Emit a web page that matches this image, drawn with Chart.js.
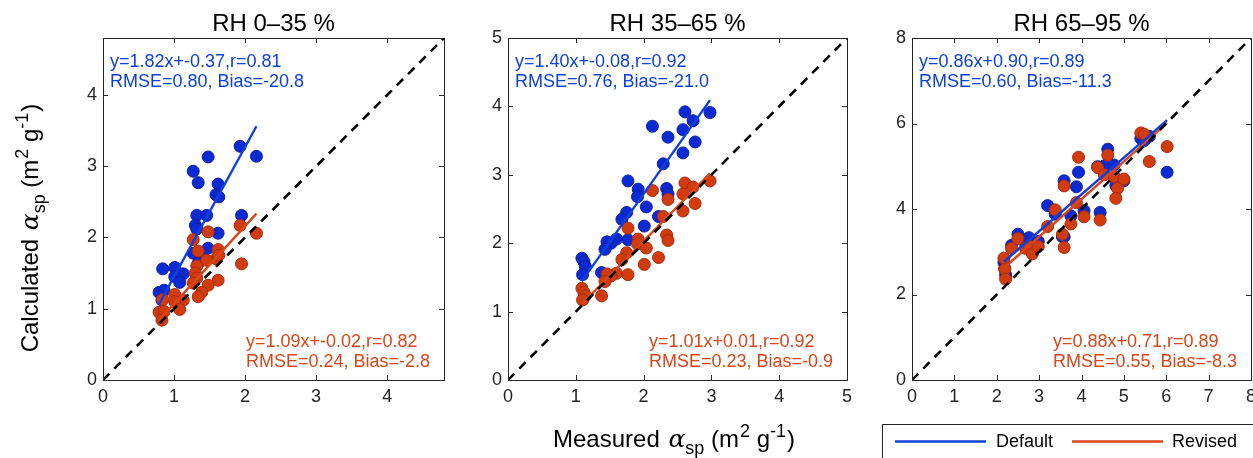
<!DOCTYPE html>
<html>
<head>
<meta charset="utf-8">
<script src="https://cdn.jsdelivr.net/npm/chart.js@4.4.0/dist/chart.umd.min.js"></script>
<style>
    body { margin: 0; background: #fff; }
    #wrap { position: relative; width: 1253px; height: 458px; overflow: hidden; }
    #wrap canvas { position: absolute; left: 0; top: 0; }
</style>
</head>
<body>
<div id="wrap">
    <canvas id="c0" width="1300" height="458"></canvas>
    <canvas id="c1" width="1300" height="458"></canvas>
    <canvas id="c2" width="1300" height="458"></canvas>
</div>
<script>
// ---- data ----
const panelTitles = ['RH 0\u201335 %', 'RH 35\u201365 %', 'RH 65\u201395 %'];
const axisMax = [4.8, 5, 8];
const xTickStep = [1, 1, 1];
const yTickStep = [1, 1, 2];

// RH 0-35 %
const measured1 = [1.93, 2.16, 1.48, 1.27, 1.34, 1.62, 1.59, 1.63, 1.95, 1.32, 1.46, 1.30, 1.32,
                   1.62, 1.48, 1.27, 1.39, 1.34, 0.84, 1.01, 1.13, 1.01, 1.08, 0.79, 0.86, 0.83];
const default1  = [3.28, 3.14, 3.13, 2.93, 2.77, 2.75, 2.60, 2.57, 2.31, 2.31, 2.31, 2.17, 2.12,
                   2.06, 1.85, 1.78, 1.71, 1.64, 1.56, 1.58, 1.49, 1.45, 1.37, 1.23, 1.26, 1.12];
const revised1  = [2.17, 2.06, 2.08, 1.97, 1.81, 1.83, 1.70, 1.75, 1.63, 1.60, 1.68, 1.50, 1.43,
                   1.40, 1.33, 1.36, 1.23, 1.17, 1.13, 1.20, 1.12, 1.10, 0.99, 0.95, 0.96, 0.84];

// RH 35-65 %
const measured2 = [2.61, 2.98, 2.73, 2.13, 2.58, 2.36, 2.76, 2.58, 2.29, 1.77, 1.92, 2.34, 2.36, 1.91, 2.04,
                   1.75, 1.68, 2.22, 2.01, 1.60, 1.52, 1.46, 1.77, 1.43, 1.09, 1.12, 1.14, 1.10, 1.38];
const default2  = [3.92, 3.91, 3.79, 3.71, 3.66, 3.55, 3.48, 3.32, 3.16, 2.91, 2.79, 2.80, 2.72, 2.68, 2.53,
                   2.45, 2.35, 2.39, 2.25, 2.06, 2.00, 2.02, 2.05, 1.91, 1.78, 1.73, 1.66, 1.54, 1.57];
const revised2  = [2.88, 2.91, 2.82, 2.77, 2.72, 2.64, 2.58, 2.47, 2.39, 2.22, 2.06, 2.12, 2.04, 1.99, 1.93,
                   1.86, 1.76, 1.79, 1.69, 1.56, 1.52, 1.55, 1.54, 1.44, 1.34, 1.28, 1.23, 1.17, 1.23];

// RH 65-95 %
const measured3 = [2.17, 2.19, 2.21, 2.35, 2.50, 2.68, 2.76, 2.84, 2.98, 3.20, 3.38, 3.55, 3.59, 3.59,
                   3.75, 3.88, 3.93, 4.06, 4.44, 4.38, 4.54, 4.62, 4.77, 4.85, 4.81, 5.00, 5.40, 5.48,
                   5.60, 6.02];
const default3  = [2.75, 2.61, 2.46, 3.15, 3.41, 3.20, 3.33, 3.05, 3.24, 4.08, 3.88, 3.35, 3.35, 4.66,
                   3.84, 4.52, 4.86, 3.96, 3.92, 4.99, 5.01, 5.40, 5.03, 4.68, 4.55, 4.66, 5.65, 5.60,
                   5.70, 4.86];
const revised3  = [2.85, 2.59, 2.36, 3.08, 3.31, 3.08, 3.13, 2.95, 3.12, 3.59, 3.98, 3.41, 3.10, 4.54,
                   3.65, 4.15, 5.21, 3.82, 3.74, 4.97, 4.80, 5.26, 4.76, 4.48, 4.25, 4.70, 5.78, 5.75,
                   5.11, 5.46];

// linear fits printed in the panels: [slope, intercept]
const fitDefault = [[1.82, -0.37], [1.40, -0.08], [0.86, 0.90]];
const fitRevised = [[1.09, -0.02], [1.01, 0.01], [0.88, 0.71]];
const statsDefault = [
    ['y=1.82x+-0.37,r=0.81', 'RMSE=0.80, Bias=-20.8'],
    ['y=1.40x+-0.08,r=0.92', 'RMSE=0.76, Bias=-21.0'],
    ['y=0.86x+0.90,r=0.89', 'RMSE=0.60, Bias=-11.3']
];
const statsRevised = [
    ['y=1.09x+-0.02,r=0.82', 'RMSE=0.24, Bias=-2.8'],
    ['y=1.01x+0.01,r=0.92', 'RMSE=0.23, Bias=-0.9'],
    ['y=0.88x+0.71,r=0.89', 'RMSE=0.55, Bias=-8.3']
];
const legendLabels = ['Default', 'Revised'];

const measured = [measured1, measured2, measured3];
const defaults = [default1, default2, default3];
const reviseds = [revised1, revised2, revised3];

// ---- look ----
const FONT = '"Liberation Sans", Arial, Helvetica, sans-serif';
const AXIS_COLOR = '#262626';
const BLUE = '#0a2bd4';
const BLUE_EDGE = '#10209c';
const BLUE_LINE = '#1040dc';
const RED = '#d23c0c';
const RED_EDGE = '#a82a10';
const RED_LINE = '#d9461a';
const CANVAS_W = 1300;

// plot boxes in page pixels
const boxes = [
    { l: 103, r: 444, t: 38, b: 380 },
    { l: 508, r: 847, t: 38, b: 380 },
    { l: 912, r: 1251, t: 38, b: 380 }
];

function toPoints(xs, ys) {
    return xs.map((x, i) => ({ x: x, y: ys[i] }));
}

function fitLine(xs, coef) {
    const x0 = Math.min(...xs), x1 = Math.max(...xs);
    return [{ x: x0, y: coef[0] * x0 + coef[1] }, { x: x1, y: coef[0] * x1 + coef[1] }];
}

// draw text made of pieces (sub/superscripts), centred at cx, baseline cy
function drawRich(ctx, parts, cx, cy) {
    let w = 0;
    parts.forEach(p => { ctx.font = p.font; w += ctx.measureText(p.t).width + (p.gap || 0); });
    let x = cx - w / 2;
    ctx.textAlign = 'left';
    ctx.textBaseline = 'alphabetic';
    parts.forEach(p => {
        ctx.font = p.font;
        ctx.fillText(p.t, x, cy + (p.dy || 0));
        x += ctx.measureText(p.t).width + (p.gap || 0);
    });
}

function unitParts(word) {
    const big = '24px ' + FONT;
    const small = '18px ' + FONT;
    return [
        { t: word + ' ', font: big, gap: 2 },
        { t: '\u03b1', font: 'italic 25px "DejaVu Serif", "Liberation Serif", serif' },
        { t: 'sp', font: small, dy: 7 },
        { t: ' (m', font: big, gap: 1 },
        { t: '2', font: small, dy: -10 },
        { t: ' g', font: big },
        { t: '-1', font: small, dy: -10, gap: 1 },
        { t: ')', font: big }
    ];
}

const framePlugin = {
    id: 'frame',
    afterDraw(chart, args, opts) {
        const ctx = chart.ctx;
        const a = chart.chartArea;
        const i = opts.panel;
        const sx = chart.scales.x, sy = chart.scales.y;
        ctx.save();

        // box and inward ticks
        ctx.strokeStyle = AXIS_COLOR;
        ctx.lineWidth = 1;
        ctx.strokeRect(Math.round(a.left) + 0.5, Math.round(a.top) + 0.5,
                       Math.round(a.right - a.left), Math.round(a.bottom - a.top));
        ctx.beginPath();
        sx.ticks.forEach(t => {
            const px = Math.round(sx.getPixelForValue(t.value)) + 0.5;
            ctx.moveTo(px, a.bottom); ctx.lineTo(px, a.bottom - 5);
            ctx.moveTo(px, a.top); ctx.lineTo(px, a.top + 5);
        });
        sy.ticks.forEach(t => {
            const py = Math.round(sy.getPixelForValue(t.value)) + 0.5;
            ctx.moveTo(a.left, py); ctx.lineTo(a.left + 5, py);
            ctx.moveTo(a.right, py); ctx.lineTo(a.right - 5, py);
        });
        ctx.stroke();

        // title
        ctx.fillStyle = '#000';
        ctx.font = '24px ' + FONT;
        ctx.textAlign = 'center';
        ctx.textBaseline = 'alphabetic';
        ctx.fillText(panelTitles[i], (a.left + a.right) / 2, 31);

        // fit statistics
        ctx.font = '18px ' + FONT;
        ctx.textAlign = 'left';
        ctx.textBaseline = 'middle';
        ctx.fillStyle = BLUE_LINE;
        ctx.fillText(statsDefault[i][0], a.left + 7, 62);
        ctx.fillText(statsDefault[i][1], a.left + 7, 82);
        ctx.fillStyle = RED_LINE;
        ctx.fillText(statsRevised[i][0], a.right - 198, 342);
        ctx.fillText(statsRevised[i][1], a.right - 198, 362);

        // shared pieces
        ctx.fillStyle = '#000';
        if (i === 0) {
            ctx.save();
            ctx.translate(38, 228);
            ctx.rotate(-Math.PI / 2);
            drawRich(ctx, unitParts('Calculated'), 0, 0);
            ctx.restore();
        }
        if (i === 1) {
            drawRich(ctx, unitParts('Measured'), 674, 447);
        }
        if (i === 2) {
            ctx.strokeStyle = AXIS_COLOR;
            ctx.lineWidth = 1;
            ctx.strokeRect(882.5, 424.5, 400, 60);
            ctx.lineWidth = 2.5;
            ctx.strokeStyle = BLUE_LINE;
            ctx.beginPath(); ctx.moveTo(895, 441.5); ctx.lineTo(986, 441.5); ctx.stroke();
            ctx.strokeStyle = RED_LINE;
            ctx.beginPath(); ctx.moveTo(1072, 441.5); ctx.lineTo(1163, 441.5); ctx.stroke();
            ctx.fillStyle = '#000';
            ctx.font = '18px ' + FONT;
            ctx.textAlign = 'left';
            ctx.textBaseline = 'middle';
            ctx.fillText(legendLabels[0], 996, 442);
            ctx.fillText(legendLabels[1], 1172, 442);
        }
        ctx.restore();
    }
};

function makePanel(i) {
    const box = boxes[i];
    const m = axisMax[i];
    const tickFont = { family: FONT, size: 18 };
    new Chart(document.getElementById('c' + i), {
        type: 'scatter',
        data: {
            datasets: [
                {
                    data: [{ x: 0, y: 0 }, { x: m, y: m }],
                    showLine: true, borderColor: '#000', borderWidth: 2.6,
                    borderDash: [9, 7], pointRadius: 0, order: 0
                },
                {
                    data: fitLine(measured[i], fitDefault[i]),
                    showLine: true, borderColor: BLUE_LINE, borderWidth: 2.4,
                    pointRadius: 0, order: 1
                },
                {
                    data: fitLine(measured[i], fitRevised[i]),
                    showLine: true, borderColor: RED_LINE, borderWidth: 2.4,
                    pointRadius: 0, order: 1
                },
                {
                    data: toPoints(measured[i], reviseds[i]),
                    backgroundColor: RED, borderColor: RED_EDGE, borderWidth: 1,
                    pointRadius: 6, order: 2
                },
                {
                    data: toPoints(measured[i], defaults[i]),
                    backgroundColor: BLUE, borderColor: BLUE_EDGE, borderWidth: 1,
                    pointRadius: 6, order: 3
                }
            ]
        },
        options: {
            responsive: false,
            animation: false,
            devicePixelRatio: 1,
            events: [],
            layout: {
                padding: { left: box.l - 40, right: CANVAS_W - box.r, top: box.t, bottom: 458 - box.b - 30 }
            },
            plugins: {
                legend: { display: false },
                tooltip: { enabled: false },
                frame: { panel: i }
            },
            scales: {
                x: {
                    type: 'linear', min: 0, max: m,
                    grid: { display: false, drawTicks: false },
                    border: { display: false },
                    ticks: { stepSize: xTickStep[i], includeBounds: false, font: tickFont,
                             color: AXIS_COLOR, padding: 6, maxRotation: 0 },
                    afterFit(s) { s.height = 30; }
                },
                y: {
                    type: 'linear', min: 0, max: m,
                    grid: { display: false, drawTicks: false },
                    border: { display: false },
                    ticks: { stepSize: yTickStep[i], includeBounds: false, font: tickFont,
                             color: AXIS_COLOR, padding: 6 },
                    afterFit(s) { s.width = 40; }
                }
            }
        },
        plugins: [framePlugin]
    });
}

[0, 1, 2].forEach(makePanel);
</script>
</body>
</html>
